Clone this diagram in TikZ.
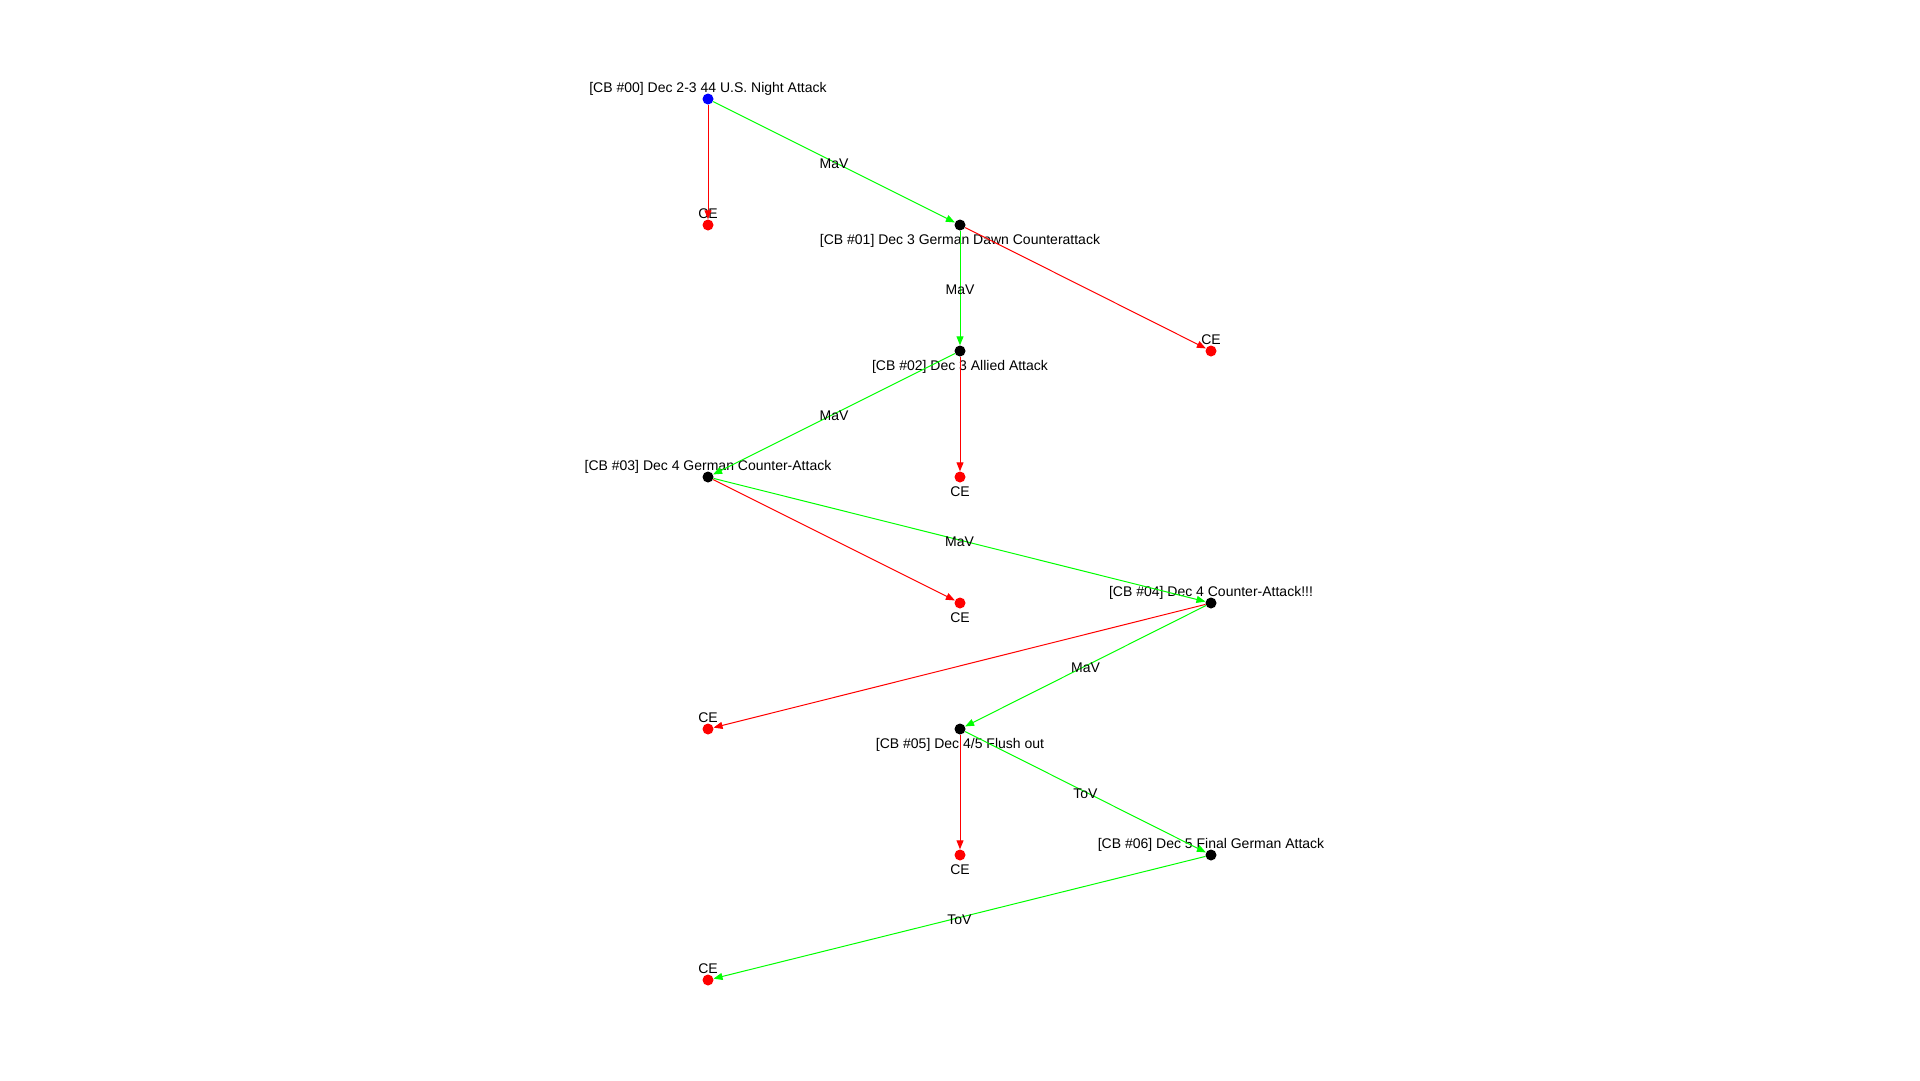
\documentclass[tikz,border=0pt]{standalone}
\usepackage{fontspec}
\setmainfont{Liberation Sans}
\usetikzlibrary{arrows.meta,positioning}
\definecolor{cWin}{RGB}{0,255,0}
\definecolor{cLoss}{RGB}{255,0,0}
\definecolor{cStart}{RGB}{0,0,255}
\tikzset{
  dotnode/.style={circle,inner sep=0pt,minimum size=11pt,
                  font=\fontsize{14}{16}\selectfont,
                  label distance=0pt},
  cbnode/.style={dotnode,fill=black},
  startnode/.style={dotnode,fill=cStart},
  cenode/.style={dotnode,fill=cLoss},
  lbl/.style={inner sep=0.5pt,text depth=0pt,font=\fontsize{14}{16}\selectfont},
  lblb/.style={lbl,yshift=-3pt},
  edgelbl/.style={midway,inner sep=0pt,yshift=-2pt,text=black,
                  font=\fontsize{14}{16}\selectfont},
  winarr/.style={-{Triangle[length=9pt,width=7pt]},line width=1pt,color=cWin},
  lossarr/.style={-{Triangle[length=9pt,width=7pt]},line width=1pt,color=cLoss}
}
\begin{document}
\begin{tikzpicture}[x=1pt,y=-1pt]
  \useasboundingbox (0,0) rectangle (1920,1080);

  % combats
  \node[startnode,label={[lbl]above:[CB \#00] Dec 2-3 44 U.S. Night Attack}] (cb0) at (708,99) {};
  \node[cbnode,label={[lblb]below:[CB \#01] Dec 3 German Dawn Counterattack}] (cb1) at (960,225) {};
  \node[cbnode,label={[lblb]below:[CB \#02] Dec 3 Allied Attack}] (cb2) at (960,351) {};
  \node[cbnode,label={[lbl]above:[CB \#03] Dec 4 German Counter-Attack}] (cb3) at (708,477) {};
  \node[cbnode,label={[lbl]above:[CB \#04] Dec 4 Counter-Attack!!!}] (cb4) at (1211,603) {};
  \node[cbnode,label={[lblb]below:[CB \#05] Dec 4/5 Flush out}] (cb5) at (960,729) {};
  \node[cbnode,label={[lbl]above:[CB \#06] Dec 5 Final German Attack}] (cb6) at (1211,855) {};

  % combat ends
  \node[cenode,label={[lbl]above:CE}] (ce0) at (708,225) {};
  \node[cenode,label={[lbl]above:CE}] (ce1) at (1211,351) {};
  \node[cenode,label={[lblb]below:CE}] (ce2) at (960,477) {};
  \node[cenode,label={[lblb]below:CE}] (ce3) at (960,603) {};
  \node[cenode,label={[lbl]above:CE}] (ce4) at (708,729) {};
  \node[cenode,label={[lblb]below:CE}] (ce5) at (960,855) {};
  \node[cenode,label={[lbl]above:CE}] (ce6) at (708,980) {};

  \draw[lossarr] (cb0)--(ce0);
  \draw[winarr] (cb0)--(cb1) node[edgelbl]{MaV};
  \draw[lossarr] (cb1)--(ce1);
  \draw[winarr] (cb1)--(cb2) node[edgelbl]{MaV};
  \draw[lossarr] (cb2)--(ce2);
  \draw[winarr] (cb2)--(cb3) node[edgelbl]{MaV};
  \draw[lossarr] (cb3)--(ce3);
  \draw[winarr] (cb3)--(cb4) node[edgelbl]{MaV};
  \draw[lossarr] (cb4)--(ce4);
  \draw[winarr] (cb4)--(cb5) node[edgelbl]{MaV};
  \draw[lossarr] (cb5)--(ce5);
  \draw[winarr] (cb5)--(cb6) node[edgelbl]{ToV};
  \draw[winarr] (cb6)--(ce6) node[edgelbl]{ToV};

\end{tikzpicture}
\end{document}
